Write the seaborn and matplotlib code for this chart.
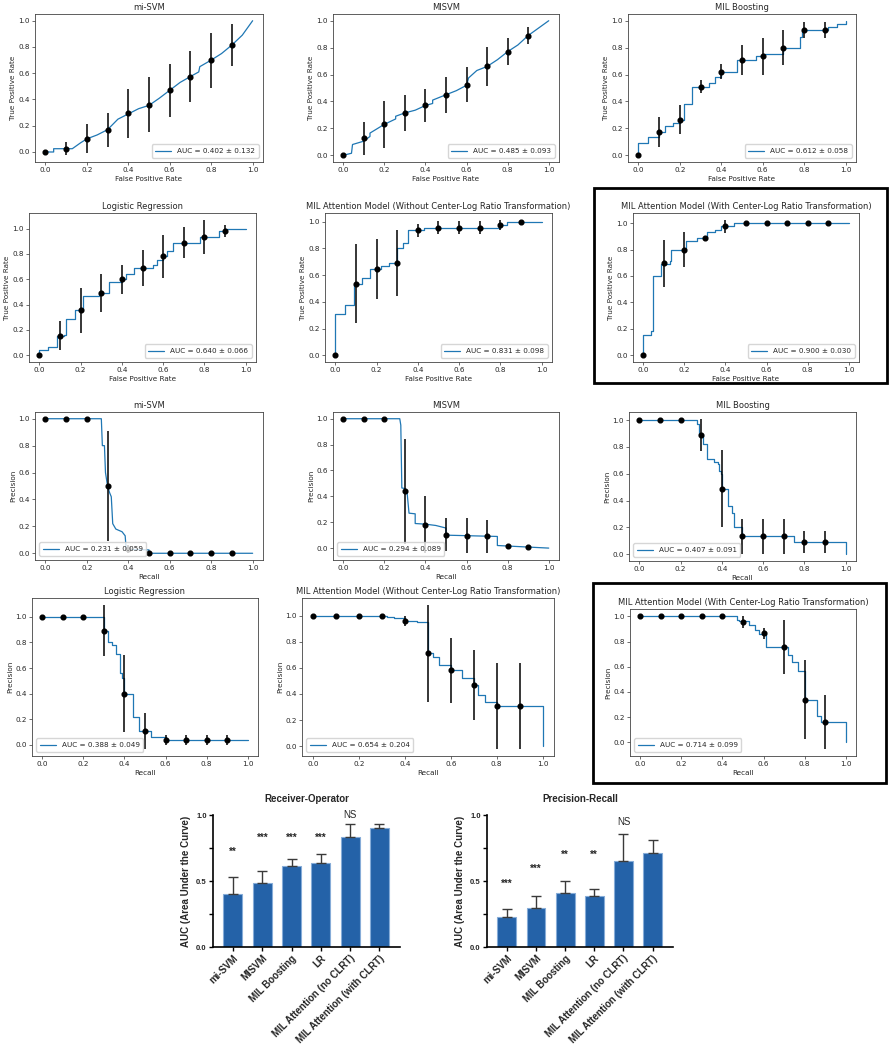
import matplotlib

matplotlib.use("Agg")
import matplotlib.pyplot as plt
import numpy as np
import pandas as pd
import seaborn as sns
from matplotlib.patches import Rectangle
from matplotlib.ticker import MultipleLocator

FIG_W, FIG_H = 895, 1050
CURVE_BLUE = "#1f77b4"
BAR_BLUE = "#2462a8"
BAR_EDGE = "#86acd8"
SMALL = 5.2

# ---- data ----
grid_x = [0.0, 0.1, 0.2, 0.3, 0.4, 0.5, 0.6, 0.7, 0.8, 0.9]

panel_titles = [
    "mi-SVM",
    "MISVM",
    "MIL Boosting",
    "Logistic Regression",
    "MIL Attention Model (Without Center-Log Ratio Transformation)",
    "MIL Attention Model (With Center-Log Ratio Transformation)",
]
bar_labels = ["mi-SVM", "MISVM", "MIL Boosting", "LR",
              "MIL Attention (no CLRT)", "MIL Attention (with CLRT)"]

roc_auc = [0.402, 0.485, 0.612, 0.640, 0.831, 0.900]
roc_auc_sd = [0.132, 0.093, 0.058, 0.066, 0.098, 0.030]
pr_auc = [0.231, 0.294, 0.407, 0.388, 0.654, 0.714]
pr_auc_sd = [0.059, 0.089, 0.091, 0.049, 0.204, 0.099]

roc_sig = ["**", "***", "***", "***", "NS", ""]
pr_sig = ["***", "***", "**", "**", "NS", ""]
roc_sig_y = [0.72, 0.83, 0.83, 0.83, 1.0, 0.0]
pr_sig_y = [0.48, 0.59, 0.70, 0.70, 0.95, 0.0]

# mean ROC curves
roc_x_mi = [0, 0.04, 0.04, 0.13, 0.17, 0.2, 0.25, 0.3, 0.35, 0.4, 0.45, 0.5,
            0.55, 0.6, 0.65, 0.7, 0.74, 0.745, 0.8, 0.85, 0.9, 0.95, 1.0]
roc_y_mi = [0, 0, 0.025, 0.025, 0.07, 0.10, 0.13, 0.17, 0.25, 0.29, 0.33, 0.355,
            0.41, 0.47, 0.53, 0.575, 0.61, 0.65, 0.70, 0.75, 0.815, 0.89, 1.0]
roc_x_misvm = [0, 0.04, 0.045, 0.1, 0.13, 0.13, 0.2, 0.255, 0.255, 0.3, 0.35, 0.4, 0.435,
               0.435, 0.5, 0.55, 0.6, 0.61, 0.65, 0.7, 0.75, 0.8, 0.85, 0.9, 1.0]
roc_y_misvm = [0, 0.015, 0.08, 0.105, 0.14, 0.165, 0.23, 0.27, 0.29, 0.315, 0.335, 0.37, 0.385,
               0.41, 0.45, 0.48, 0.52, 0.575, 0.63, 0.66, 0.71, 0.77, 0.82, 0.89, 1.0]
roc_x_boost = [0, 0, 0.045, 0.1, 0.13, 0.165, 0.2, 0.218, 0.26, 0.34, 0.37, 0.4, 0.474,
               0.566, 0.6, 0.7, 0.778, 0.79, 0.914, 0.956, 1.0]
roc_y_boost = [0, 0.09, 0.135, 0.175, 0.22, 0.24, 0.265, 0.38, 0.51, 0.535, 0.58, 0.62, 0.71,
               0.735, 0.755, 0.80, 0.88, 0.93, 0.955, 0.975, 1.0]
roc_x_lr = [0, 0, 0.04, 0.085, 0.12, 0.13, 0.175, 0.21, 0.29, 0.34, 0.4, 0.42, 0.46, 0.55,
            0.57, 0.6, 0.62, 0.65, 0.78, 0.87, 0.9, 1.0]
roc_y_lr = [0, 0.045, 0.065, 0.155, 0.16, 0.29, 0.36, 0.465, 0.49, 0.58, 0.60, 0.64, 0.69, 0.71,
            0.75, 0.78, 0.82, 0.89, 0.93, 0.98, 1.0, 1.0]
roc_x_att = [0, 0, 0.045, 0.09, 0.13, 0.17, 0.22, 0.26, 0.3, 0.33, 0.35, 0.43, 0.8, 0.83, 1.0]
roc_y_att = [0, 0.31, 0.38, 0.535, 0.58, 0.645, 0.665, 0.69, 0.80, 0.84, 0.935, 0.955, 0.975, 1.0, 1.0]
roc_x_clr = [0, 0, 0.04, 0.045, 0.085, 0.13, 0.135, 0.21, 0.26, 0.31, 0.35, 0.38, 0.44, 1.0]
roc_y_clr = [0, 0.155, 0.18, 0.60, 0.69, 0.71, 0.80, 0.865, 0.885, 0.93, 0.95, 0.975, 1.0, 1.0]

# ROC fold points (mean and sd at each FPR)
roc_pt_mi = [0, 0.025, 0.10, 0.17, 0.295, 0.36, 0.47, 0.575, 0.70, 0.815]
roc_sd_mi = [0, 0.05, 0.11, 0.13, 0.185, 0.21, 0.20, 0.195, 0.21, 0.157]
roc_pt_misvm = [0, 0.125, 0.23, 0.315, 0.37, 0.45, 0.525, 0.66, 0.77, 0.89]
roc_sd_misvm = [0, 0.12, 0.175, 0.135, 0.125, 0.135, 0.13, 0.145, 0.10, 0.06]
roc_pt_boost = [0, 0.175, 0.265, 0.51, 0.62, 0.71, 0.735, 0.80, 0.93, 0.93]
roc_sd_boost = [0, 0.11, 0.11, 0.05, 0.055, 0.11, 0.135, 0.13, 0.06, 0.06]
roc_pt_lr = [0, 0.155, 0.355, 0.49, 0.60, 0.69, 0.78, 0.89, 0.935, 0.98]
roc_sd_lr = [0, 0.115, 0.18, 0.15, 0.115, 0.145, 0.17, 0.12, 0.135, 0.045]
roc_pt_att = [0, 0.535, 0.645, 0.69, 0.935, 0.955, 0.955, 0.955, 0.975, 1.0]
roc_sd_att = [0, 0.295, 0.225, 0.245, 0.05, 0.05, 0.05, 0.05, 0.04, 0]
roc_pt_clr = [0, 0.695, 0.80, 0.885, 0.975, 1, 1, 1, 1, 1]
roc_sd_clr = [0, 0.18, 0.13, 0.01, 0.05, 0, 0, 0, 0, 0]

# mean precision-recall curves
pr_x_mi = [0, 0.27, 0.275, 0.285, 0.29, 0.3, 0.31, 0.318, 0.325, 0.34, 0.37, 0.385, 0.39, 0.5, 0.5, 1.0]
pr_y_mi = [1, 1, 0.80, 0.80, 0.60, 0.50, 0.45, 0.42, 0.22, 0.18, 0.16, 0.13, 0.03, 0.025, 0.0, 0.0]
pr_x_misvm = [0, 0.275, 0.28, 0.285, 0.3, 0.31, 0.32, 0.35, 0.35, 0.4, 0.45, 0.5, 0.5, 0.75, 0.75, 1.0]
pr_y_misvm = [1, 1, 0.95, 0.465, 0.46, 0.44, 0.27, 0.265, 0.19, 0.185, 0.175, 0.155, 0.10, 0.09, 0.02, 0.0]
pr_x_boost = [0, 0.28, 0.29, 0.31, 0.33, 0.36, 0.38, 0.385, 0.395, 0.4, 0.43, 0.45, 0.46, 0.5, 0.75, 1.0, 1.0]
pr_y_boost = [1, 0.97, 0.89, 0.82, 0.71, 0.69, 0.67, 0.62, 0.60, 0.49, 0.36, 0.31, 0.20, 0.135, 0.09, 0.09, 0.0]
pr_x_lr = [0, 0.3, 0.32, 0.34, 0.36, 0.38, 0.39, 0.4, 0.44, 0.47, 0.53, 0.6, 1.0]
pr_y_lr = [1, 0.89, 0.80, 0.78, 0.71, 0.56, 0.52, 0.40, 0.22, 0.11, 0.06, 0.04, 0.04]
pr_x_att = [0, 0.32, 0.35, 0.4, 0.45, 0.5, 0.52, 0.55, 0.6, 0.65, 0.7, 0.72, 0.75, 0.8, 1.0, 1.0]
pr_y_att = [1, 0.99, 0.985, 0.96, 0.95, 0.71, 0.68, 0.62, 0.58, 0.52, 0.47, 0.39, 0.34, 0.31, 0.31, 0.0]
pr_x_clr = [0, 0.47, 0.48, 0.53, 0.56, 0.58, 0.6, 0.61, 0.72, 0.74, 0.77, 0.8, 0.86, 0.88, 1.0, 1.0]
pr_y_clr = [1, 0.97, 0.96, 0.935, 0.895, 0.86, 0.87, 0.755, 0.69, 0.635, 0.565, 0.34, 0.21, 0.16, 0.155, 0.0]

# PR fold points (mean and sd at each recall)
pr_pt_mi = [1, 1, 1, 0.5, 0.03, 0, 0, 0, 0, 0]
pr_sd_mi = [0, 0, 0, 0.41, 0.03, 0, 0, 0, 0, 0]
pr_pt_misvm = [1, 1, 1, 0.44, 0.18, 0.105, 0.095, 0.09, 0.015, 0.005]
pr_sd_misvm = [0, 0, 0, 0.405, 0.22, 0.13, 0.135, 0.13, 0.02, 0]
pr_pt_boost = [1, 1, 1, 0.89, 0.49, 0.135, 0.135, 0.135, 0.09, 0.09]
pr_sd_boost = [0, 0, 0, 0.12, 0.285, 0.13, 0.13, 0.13, 0.08, 0.08]
pr_pt_lr = [1, 1, 1, 0.89, 0.40, 0.11, 0.04, 0.04, 0.04, 0.04]
pr_sd_lr = [0, 0, 0, 0.2, 0.3, 0.14, 0.04, 0.04, 0.04, 0.04]
pr_pt_att = [1, 1, 1, 1, 0.96, 0.71, 0.58, 0.47, 0.31, 0.31]
pr_sd_att = [0, 0, 0, 0, 0.04, 0.37, 0.25, 0.27, 0.33, 0.33]
pr_pt_clr = [1, 1, 1, 1, 1, 0.955, 0.865, 0.755, 0.34, 0.16]
pr_sd_clr = [0, 0, 0, 0, 0, 0.05, 0.045, 0.215, 0.31, 0.215]

roc_curves = [
    (roc_x_mi, roc_y_mi, False, roc_pt_mi, roc_sd_mi),
    (roc_x_misvm, roc_y_misvm, False, roc_pt_misvm, roc_sd_misvm),
    (roc_x_boost, roc_y_boost, True, roc_pt_boost, roc_sd_boost),
    (roc_x_lr, roc_y_lr, True, roc_pt_lr, roc_sd_lr),
    (roc_x_att, roc_y_att, True, roc_pt_att, roc_sd_att),
    (roc_x_clr, roc_y_clr, True, roc_pt_clr, roc_sd_clr),
]
pr_curves = [
    (pr_x_mi, pr_y_mi, False, pr_pt_mi, pr_sd_mi),
    (pr_x_misvm, pr_y_misvm, False, pr_pt_misvm, pr_sd_misvm),
    (pr_x_boost, pr_y_boost, True, pr_pt_boost, pr_sd_boost),
    (pr_x_lr, pr_y_lr, True, pr_pt_lr, pr_sd_lr),
    (pr_x_att, pr_y_att, True, pr_pt_att, pr_sd_att),
    (pr_x_clr, pr_y_clr, True, pr_pt_clr, pr_sd_clr),
]

# ---- layout (pixel boxes: left, top, right, bottom) ----
roc_boxes = [(35, 14, 263, 162), (333, 14, 559, 162), (628, 14, 856, 162),
             (29, 213, 256, 362), (325, 213, 552, 362), (633, 213, 859, 362)]
pr_boxes = [(35, 412, 263, 560), (333, 412, 559, 560), (629, 412, 856, 561),
            (32, 598, 258, 756), (302, 598, 554, 756), (630, 609, 856, 756)]
bar_boxes = [(213, 815, 400, 947), (487, 815, 673, 947)]
frame_boxes = [(594, 188, 887, 383), (593, 583, 886, 783)]


def add_axes_px(fig, box):
    left, top, right, bottom = box
    return fig.add_axes([left / FIG_W, 1 - bottom / FIG_H,
                         (right - left) / FIG_W, (bottom - top) / FIG_H])


def plot_curve_panel(ax, title, curve, auc, sd, kind):
    cx, cy, steps, pts, errs = curve
    sns.lineplot(x=cx, y=cy, ax=ax, sort=False, estimator=None, errorbar=None,
                 color=CURVE_BLUE, lw=0.9,
                 drawstyle="steps-post" if steps else "default",
                 label=f"AUC = {auc:.3f} \u00b1 {sd:.3f}")
    ax.errorbar(grid_x, pts, yerr=errs, fmt="o", color="black", ms=3.4,
                elinewidth=1.1, capsize=0, zorder=3)
    ax.set_title(title, fontsize=6, pad=3)
    if kind == "roc":
        ax.set_xlabel("False Positive Rate", fontsize=SMALL, labelpad=2)
        ax.set_ylabel("True Positive Rate", fontsize=SMALL, labelpad=2)
        loc = "lower right"
    else:
        ax.set_xlabel("Recall", fontsize=SMALL, labelpad=2)
        ax.set_ylabel("Precision", fontsize=SMALL, labelpad=2)
        loc = "lower left"
    ax.set_xticks([0, 0.2, 0.4, 0.6, 0.8, 1.0])
    ax.set_yticks([0, 0.2, 0.4, 0.6, 0.8, 1.0])
    ax.tick_params(labelsize=SMALL, length=2, width=0.5, pad=1.5, color="#333333")
    for spine in ax.spines.values():
        spine.set_linewidth(0.6)
        spine.set_color("#444444")
    ax.legend(loc=loc, fontsize=SMALL, borderaxespad=0.6, handlelength=2.2,
              borderpad=0.5, framealpha=0.8, edgecolor="#cccccc", fancybox=True)


def plot_auc_bars(ax, title, values, errors, sig, sig_y):
    df = pd.DataFrame({"model": bar_labels, "auc": values})
    sns.barplot(data=df, x="model", y="auc", ax=ax, color=BAR_BLUE, width=0.65,
                saturation=1, edgecolor=BAR_EDGE, linewidth=0.8, errorbar=None)
    n = len(values)
    ax.errorbar(np.arange(n), values, yerr=[np.zeros(n), errors], fmt="none",
                ecolor="#3a3a3a", elinewidth=1, capsize=3.5, capthick=1, zorder=1)
    for i, (s, y) in enumerate(zip(sig, sig_y)):
        if not s:
            continue
        if s == "NS":
            ax.text(i, y, s, ha="center", va="center", fontsize=7,
                    family="Liberation Sans", clip_on=False)
        else:
            ax.text(i, y, s, ha="center", va="center", fontsize=7, fontweight="bold",
                    family="Liberation Sans", clip_on=False)
    ax.set_xlim(-0.68, 5.7)
    ax.set_ylim(0, 1.0)
    ax.set_yticks([0, 0.5, 1.0])
    ax.set_yticklabels(["0.0", "0.5", "1.0"], fontsize=5.5, fontweight="bold",
                       family="Liberation Sans")
    ax.yaxis.set_minor_locator(MultipleLocator(0.25))
    ax.set_xticks(range(n))
    ax.set_xticklabels(bar_labels, rotation=45, ha="right", rotation_mode="anchor",
                       fontsize=7, fontweight="bold", family="Liberation Sans")
    ax.set_xlabel("")
    ax.set_ylabel("AUC (Area Under the Curve)", fontsize=7, fontweight="bold",
                  family="Liberation Sans", labelpad=4)
    ax.set_title(title, fontsize=7, fontweight="bold", family="Liberation Sans", pad=9)
    ax.tick_params(axis="both", which="major", length=3, width=1, pad=1.5, color="black")
    ax.tick_params(axis="y", which="minor", length=3, width=1, color="black")
    sns.despine(ax=ax)
    for side in ("left", "bottom"):
        ax.spines[side].set_linewidth(1.2)
        ax.spines[side].set_color("black")


sns.set_theme(style="ticks")
plt.rcParams["font.family"] = ["DejaVu Sans"]

fig = plt.figure(figsize=(FIG_W / 100, FIG_H / 100), dpi=100)

for i, box in enumerate(roc_boxes):
    ax = add_axes_px(fig, box)
    plot_curve_panel(ax, panel_titles[i], roc_curves[i], roc_auc[i], roc_auc_sd[i], "roc")

for i, box in enumerate(pr_boxes):
    ax = add_axes_px(fig, box)
    plot_curve_panel(ax, panel_titles[i], pr_curves[i], pr_auc[i], pr_auc_sd[i], "pr")

ax_roc_bar = add_axes_px(fig, bar_boxes[0])
plot_auc_bars(ax_roc_bar, "Receiver-Operator", roc_auc, roc_auc_sd, roc_sig, roc_sig_y)
ax_pr_bar = add_axes_px(fig, bar_boxes[1])
plot_auc_bars(ax_pr_bar, "Precision-Recall", pr_auc, pr_auc_sd, pr_sig, pr_sig_y)

# black frames around the CLRT attention panels
for left, top, right, bottom in frame_boxes:
    fig.add_artist(Rectangle((left / FIG_W, 1 - bottom / FIG_H),
                             (right - left) / FIG_W, (bottom - top) / FIG_H,
                             transform=fig.transFigure, fill=False,
                             edgecolor="black", linewidth=2))

fig.savefig("out.png", dpi=100, facecolor="white")
